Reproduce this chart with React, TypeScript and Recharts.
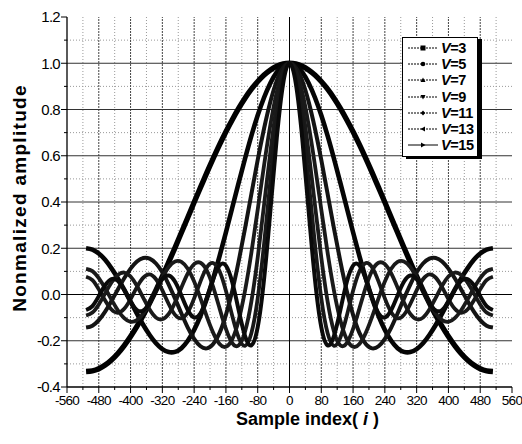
import { LineChart, Line, XAxis, YAxis, ReferenceLine, Legend } from 'recharts';

// sample positions i (step 16) and normalized amplitude for each V
const sampleIndex = [
  -512, -496, -480, -464, -448, -432, -416, -400, -384, -368, -352, -336, -320, -304, -288, -272,
  -256, -240, -224, -208, -192, -176, -160, -144, -128, -112, -96, -80, -64, -48, -32, -16,
  0,
  16, 32, 48, 64, 80, 96, 112, 128, 144, 160, 176, 192, 208, 224, 240, 256,
  272, 288, 304, 320, 336, 352, 368, 384, 400, 416, 432, 448, 464, 480, 496, 512,
];

const v3 = [
  -0.333, -0.330, -0.321, -0.305, -0.283, -0.255, -0.221, -0.182, -0.138, -0.090, -0.037, 0.019, 0.078, 0.140, 0.203, 0.268,
  0.333, 0.399, 0.463, 0.527, 0.589, 0.648, 0.704, 0.756, 0.805, 0.849, 0.888, 0.921, 0.949, 0.971, 0.987, 0.997,
  1,
  0.997, 0.987, 0.971, 0.949, 0.921, 0.888, 0.849, 0.805, 0.756, 0.704, 0.648, 0.589, 0.527, 0.463, 0.399, 0.333,
  0.268, 0.203, 0.140, 0.078, 0.019, -0.037, -0.090, -0.138, -0.182, -0.221, -0.255, -0.283, -0.305, -0.321, -0.330, -0.333,
];

const v5 = [
  0.200, 0.194, 0.177, 0.150, 0.113, 0.070, 0.021, -0.031, -0.083, -0.132, -0.175, -0.211, -0.236, -0.249, -0.248, -0.232,
  -0.200, -0.153, -0.092, -0.017, 0.070, 0.166, 0.269, 0.376, 0.483, 0.587, 0.686, 0.775, 0.852, 0.915, 0.962, 0.990,
  1,
  0.990, 0.962, 0.915, 0.852, 0.775, 0.686, 0.587, 0.483, 0.376, 0.269, 0.166, 0.070, -0.017, -0.092, -0.153, -0.200,
  -0.232, -0.248, -0.249, -0.236, -0.211, -0.175, -0.132, -0.083, -0.031, 0.021, 0.070, 0.113, 0.150, 0.177, 0.194, 0.200,
];

const v7 = [
  -0.143, -0.135, -0.111, -0.074, -0.028, 0.022, 0.070, 0.112, 0.143, 0.158, 0.155, 0.134, 0.096, 0.043, -0.018, -0.082,
  -0.143, -0.192, -0.224, -0.233, -0.214, -0.166, -0.088, 0.016, 0.143, 0.285, 0.434, 0.582, 0.718, 0.835, 0.925, 0.981,
  1,
  0.981, 0.925, 0.835, 0.718, 0.582, 0.434, 0.285, 0.143, 0.016, -0.088, -0.166, -0.214, -0.233, -0.224, -0.192, -0.143,
  -0.082, -0.018, 0.043, 0.096, 0.134, 0.155, 0.158, 0.143, 0.112, 0.070, 0.022, -0.028, -0.074, -0.111, -0.135, -0.143,
];

const v9 = [
  0.111, 0.101, 0.071, 0.027, -0.022, -0.068, -0.102, -0.118, -0.111, -0.083, -0.037, 0.019, 0.074, 0.119, 0.143, 0.141,
  0.111, 0.056, -0.017, -0.096, -0.166, -0.214, -0.226, -0.193, -0.111, 0.016, 0.180, 0.367, 0.559, 0.735, 0.876, 0.968,
  1,
  0.968, 0.876, 0.735, 0.559, 0.367, 0.180, 0.016, -0.111, -0.193, -0.226, -0.214, -0.166, -0.096, -0.017, 0.056, 0.111,
  0.141, 0.143, 0.119, 0.074, 0.019, -0.037, -0.083, -0.111, -0.118, -0.102, -0.068, -0.022, 0.027, 0.071, 0.101, 0.111,
];

const v11 = [
  -0.091, -0.078, -0.043, 0.005, 0.052, 0.085, 0.095, 0.078, 0.038, -0.015, -0.065, -0.100, -0.107, -0.084, -0.034, 0.030,
  0.091, 0.131, 0.137, 0.103, 0.032, -0.060, -0.149, -0.210, -0.220, -0.161, -0.031, 0.160, 0.388, 0.619, 0.818, 0.952,
  1,
  0.952, 0.818, 0.619, 0.388, 0.160, -0.031, -0.161, -0.220, -0.210, -0.149, -0.060, 0.032, 0.103, 0.137, 0.131, 0.091,
  0.030, -0.034, -0.084, -0.107, -0.100, -0.065, -0.015, 0.038, 0.078, 0.095, 0.085, 0.052, 0.005, -0.043, -0.078, -0.091,
];

const v13 = [
  0.077, 0.062, 0.022, -0.026, -0.065, -0.079, -0.062, -0.020, 0.032, 0.073, 0.087, 0.066, 0.018, -0.041, -0.088, -0.103,
  -0.077, -0.017, 0.057, 0.117, 0.136, 0.101, 0.016, -0.093, -0.186, -0.222, -0.168, -0.016, 0.219, 0.494, 0.751, 0.934,
  1,
  0.934, 0.751, 0.494, 0.219, -0.016, -0.168, -0.222, -0.186, -0.093, 0.016, 0.101, 0.136, 0.117, 0.057, -0.017, -0.077,
  -0.103, -0.088, -0.041, 0.018, 0.066, 0.087, 0.073, 0.032, -0.020, -0.062, -0.079, -0.065, -0.026, 0.022, 0.062, 0.077,
];

const v15 = [
  -0.067, -0.050, -0.007, 0.040, 0.067, 0.059, 0.020, -0.030, -0.067, -0.069, -0.036, 0.019, 0.067, 0.082, 0.055, -0.004,
  -0.067, -0.099, -0.081, -0.016, 0.067, 0.126, 0.125, 0.053, -0.067, -0.179, -0.220, -0.141, 0.067, 0.365, 0.677, 0.912,
  1,
  0.912, 0.677, 0.365, 0.067, -0.141, -0.220, -0.179, -0.067, 0.053, 0.125, 0.126, 0.067, -0.016, -0.081, -0.099, -0.067,
  -0.004, 0.055, 0.082, 0.067, 0.019, -0.036, -0.069, -0.067, -0.030, 0.020, 0.059, 0.067, 0.040, -0.007, -0.050, -0.067,
];

const xTicks = [-560, -520, -480, -440, -400, -360, -320, -280, -240, -200, -160, -120, -80, -40, 0,
  40, 80, 120, 160, 200, 240, 280, 320, 360, 400, 440, 480, 520, 560];
const xMajorGrid = [-480, -400, -320, -240, -160, -80, 80, 160, 240, 320, 400, 480];
const xMinorGrid = [-520, -440, -360, -280, -200, -120, -40, 40, 120, 200, 280, 360, 440, 520];
const yTicks = [-0.4, -0.3, -0.2, -0.1, 0, 0.1, 0.2, 0.3, 0.4, 0.5, 0.6, 0.7, 0.8, 0.9, 1.0, 1.1, 1.2];
const yMajorGrid = [-0.2, 0.2, 0.4, 0.6, 0.8, 1.0];
const yMinorGrid = [-0.3, -0.1, 0.1, 0.3, 0.5, 0.7, 0.9, 1.1];

const series = [
  { key: 'v3', v: '3', values: v3, width: 5.4, color: '#000', marker: 'square' },
  { key: 'v5', v: '5', values: v5, width: 4.6, color: '#050505', marker: 'circle' },
  { key: 'v7', v: '7', values: v7, width: 4, color: '#141414', marker: 'up' },
  { key: 'v9', v: '9', values: v9, width: 3.8, color: '#1a1a1a', marker: 'down' },
  { key: 'v11', v: '11', values: v11, width: 3.8, color: '#1a1a1a', marker: 'diamond' },
  { key: 'v13', v: '13', values: v13, width: 3.8, color: '#181818', marker: 'left' },
  { key: 'v15', v: '15', values: v15, width: 4, color: '#0a0a0a', marker: 'right' },
];

const data = sampleIndex.map((x, i) => {
  const row: Record<string, number> = { x };
  series.forEach((s) => { row[s.key] = s.values[i]; });
  return row;
});

const FONT = '"Liberation Sans", Arial, sans-serif';

const XTick = (props: any) => {
  const { x, y, payload } = props;
  const major = payload.value % 80 === 0;
  const axisY = y - 11;
  return (
    <g>
      <line x1={x} x2={x} y1={axisY} y2={axisY + (major ? 6 : 3)} stroke="#000" strokeWidth={1} />
      {major && (
        <text x={x} y={axisY + 18} textAnchor="middle" fontFamily={FONT} fontSize={13.5} letterSpacing={-0.7} fill="#000">
          {payload.value}
        </text>
      )}
    </g>
  );
};

const YTick = (props: any) => {
  const { x, y, payload } = props;
  const major = Math.abs(Math.round(payload.value * 10)) % 2 === 0;
  const axisX = x + 8;
  return (
    <g>
      <line x1={axisX} x2={axisX - (major ? 6 : 3)} y1={y} y2={y} stroke="#000" strokeWidth={1} />
      {major && (
        <text x={axisX - 7} y={y} dy="0.36em" textAnchor="end" fontFamily={FONT} fontSize={15} letterSpacing={-0.7} fill="#000">
          {payload.value.toFixed(1)}
        </text>
      )}
    </g>
  );
};

const XTitle = (props: any) => {
  const { viewBox } = props;
  return (
    <text x={viewBox.x + viewBox.width / 2 + 18} y={viewBox.y + 38} textAnchor="middle" fontFamily={FONT} fontSize={18} fontWeight="bold" fill="#000">
      Sample index(<tspan fontStyle="italic"> i </tspan>)
    </text>
  );
};

const YTitle = (props: any) => {
  const { viewBox } = props;
  const cx = viewBox.x + 19;
  const cy = viewBox.y + viewBox.height / 2 - 4;
  return (
    <text x={cx} y={cy} transform={`rotate(-90, ${cx}, ${cy})`} textAnchor="middle" dominantBaseline="central" fontFamily={FONT} fontSize={19} fontWeight="bold" letterSpacing={1.3} fill="#000">
      Nonmalized amplitude
    </text>
  );
};

const Marker = ({ type }: { type: string }) => {
  const c = 15, m = 5;
  if (type === 'square') return <rect x={c - 2.5} y={m - 2.5} width={5} height={5} fill="#000" />;
  if (type === 'circle') return <circle cx={c} cy={m} r={2.3} fill="#000" />;
  if (type === 'up') return <polygon points={`${c},${m - 2.5} ${c + 2.5},${m + 2} ${c - 2.5},${m + 2}`} fill="#000" />;
  if (type === 'down') return <polygon points={`${c},${m + 2.5} ${c + 2.5},${m - 2} ${c - 2.5},${m - 2}`} fill="#000" />;
  if (type === 'diamond') return <polygon points={`${c},${m - 2.5} ${c + 2.2},${m} ${c},${m + 2.5} ${c - 2.2},${m}`} fill="#000" />;
  if (type === 'left') return <polygon points={`${c - 2.5},${m} ${c + 2},${m - 2.5} ${c + 2},${m + 2.5}`} fill="#000" />;
  return <polygon points={`${c + 2.5},${m} ${c - 2},${m - 2.5} ${c - 2},${m + 2.5}`} fill="#000" />;
};

const renderLegend = () => (
  <div style={{ border: '1.5px solid #000', background: '#fff', boxShadow: '4px 2px 0 #000', padding: '2px 0 3px 5px', boxSizing: 'border-box', width: 76 }}>
    {series.map((s) => (
      <div key={s.key} style={{ display: 'flex', alignItems: 'center', height: 16.2 }}>
        <svg width={30} height={10}>
          <line x1={0} x2={30} y1={5} y2={5} stroke="#000" strokeWidth={1} strokeDasharray={s.key === 'v15' ? undefined : '2 1'} />
          <Marker type={s.marker} />
        </svg>
        <span style={{ marginLeft: 3, fontFamily: FONT, fontWeight: 'bold', fontSize: 14.5, color: '#000', letterSpacing: -0.4 }}>
          <i>V</i>={s.v}
        </span>
      </div>
    ))}
  </div>
);

export default function App() {
  return (
    <div style={{ position: 'absolute', left: 0, top: 0, background: '#fff' }}>
      <LineChart width={522} height={444} data={data} margin={{ top: 17, right: 10, bottom: 0, left: 0 }}>
        <XAxis
          type="number"
          dataKey="x"
          domain={[-560, 560]}
          ticks={xTicks}
          interval={0}
          tick={<XTick />}
          tickLine={false}
          tickSize={6}
          tickMargin={5}
          height={57}
          stroke="#000"
          strokeWidth={1.3}
          label={XTitle}
        />
        <YAxis
          type="number"
          domain={[-0.4, 1.2]}
          ticks={yTicks}
          interval={0}
          tick={<YTick />}
          tickLine={false}
          tickSize={6}
          tickMargin={2}
          width={67}
          stroke="#000"
          strokeWidth={1.3}
          label={YTitle}
        />
        {xMinorGrid.map((v) => (
          <ReferenceLine key={`xm${v}`} x={v} stroke="#999" strokeDasharray="1 2" />
        ))}
        {yMinorGrid.map((v) => (
          <ReferenceLine key={`ym${v}`} y={v} stroke="#999" strokeDasharray="1 2" />
        ))}
        {xMajorGrid.map((v) => (
          <ReferenceLine key={`xM${v}`} x={v} stroke="#444" strokeDasharray="2 1" />
        ))}
        {yMajorGrid.map((v) => (
          <ReferenceLine key={`yM${v}`} y={v} stroke="#333" />
        ))}
        <ReferenceLine x={0} stroke="#000" />
        <ReferenceLine y={0} stroke="#000" />
        {series.map((s) => (
          <Line
            key={s.key}
            dataKey={s.key}
            name={`V=${s.v}`}
            type="natural"
            stroke={s.color}
            strokeWidth={s.width}
            dot={false}
            isAnimationActive={false}
          />
        ))}
        <Legend
          content={renderLegend}
          layout="vertical"
          align="center"
          verticalAlign="middle"
          wrapperStyle={{ left: 402, top: 37, width: 76 }}
        />
      </LineChart>
    </div>
  );
}
